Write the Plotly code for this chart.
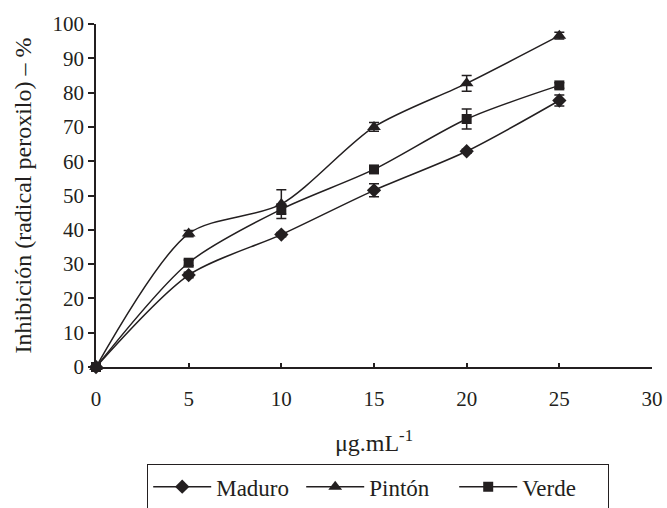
import plotly.graph_objects as go

conc = [0, 5, 10, 15, 20, 25]
maduro = [0, 26.8, 38.6, 51.5, 62.9, 77.7]
maduro_err = [0, 0.8, 0.6, 1.9, 0.6, 1.6]
pinton = [0, 38.9, 47.5, 70.0, 82.7, 96.6]
pinton_err = [0, 0.9, 4.2, 1.3, 2.3, 1.0]
verde = [0, 30.4, 46.0, 57.6, 72.3, 82.1]
verde_err = [0, 0.8, 1.5, 0.8, 2.9, 0.8]

x_ticks = [0, 5, 10, 15, 20, 25, 30]
y_ticks = [0, 10, 20, 30, 40, 50, 60, 70, 80, 90, 100]

INK = "#231f20"
FONT = "Liberation Serif"

fig = go.Figure()
series = [
    ("Maduro", maduro, maduro_err, "diamond", 11),
    ("Pintón", pinton, pinton_err, "triangle-up", 12),
    ("Verde", verde, verde_err, "square", 10),
]
for name, ys, err, sym, sz in series:
    fig.add_trace(go.Scatter(
        x=conc, y=ys, name=name, mode="lines+markers",
        line=dict(color=INK, width=1.5, shape="spline", smoothing=0.8),
        marker=dict(symbol=sym, size=sz, color=INK),
        error_y=dict(type="data", array=err, visible=True, color=INK,
                     thickness=1.5, width=5),
        cliponaxis=False,
    ))

fig.update_layout(
    width=667, height=508,
    margin=dict(l=96, r=15, t=24, b=141, autoexpand=False),
    plot_bgcolor="white", paper_bgcolor="white",
    font=dict(family=FONT, size=20, color=INK),
    showlegend=True,
    legend=dict(
        orientation="h", xref="container", yref="container",
        x=0.2204, y=0.0866, xanchor="left", yanchor="top",
        bordercolor=INK, borderwidth=1.2,
        font=dict(size=23, family=FONT, color=INK),
        entrywidth=80, entrywidthmode="pixels", itemwidth=58,
        bgcolor="white",
    ),
    xaxis=dict(
        range=[0, 30], tickvals=x_ticks, ticks="inside", ticklen=4,
        tickcolor=INK, tickwidth=1.5, showline=True, linecolor=INK,
        linewidth=1.5, showgrid=False, zeroline=False,
        ticklabelstandoff=12,
        title=dict(text="μg.mL<sup>-1</sup>", standoff=24),
        tickfont=dict(size=21, family=FONT, color=INK),
    ),
    yaxis=dict(
        range=[0, 100], tickvals=y_ticks, ticks="outside", ticklen=6,
        tickcolor=INK, tickwidth=1.5, showline=True, linecolor=INK,
        linewidth=1.5, showgrid=False, zeroline=False,
        title=dict(text="Inhibición (radical peroxilo) – %", standoff=14),
        tickfont=dict(size=21, family=FONT, color=INK),
    ),
)

fig.write_html("out.html", config={"displayModeBar": False},
               post_script="document.body.style.margin='0';")
